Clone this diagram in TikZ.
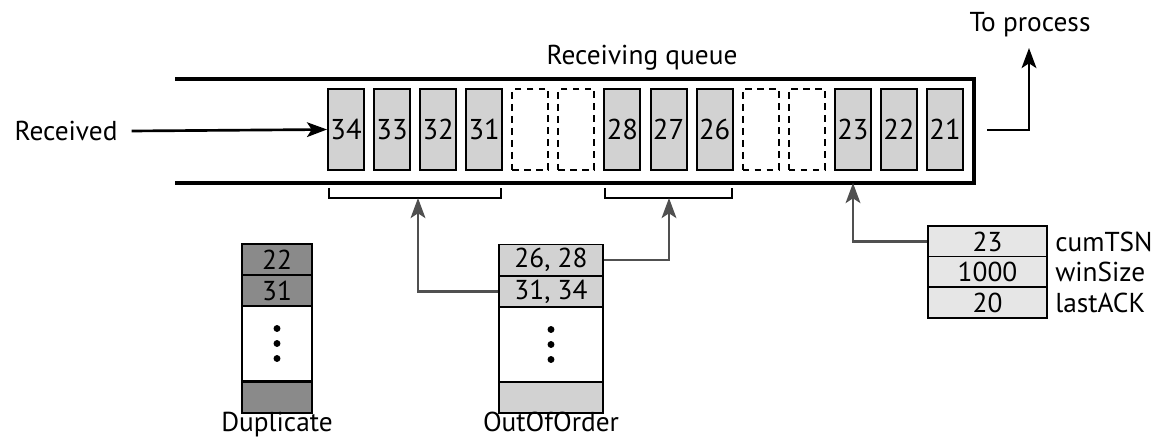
\documentclass[tikz,border=0pt]{standalone}
\usepackage{fontspec}
\setmainfont{PT Sans}
\usetikzlibrary{arrows.meta}
\definecolor{qgray}{HTML}{D2D2D2}
\definecolor{dgray}{HTML}{8A8A8A}
\definecolor{wgray}{HTML}{E6E6E6}
\definecolor{agray}{HTML}{505050}
\begin{document}
\begin{tikzpicture}[x=0.75pt,y=-0.75pt,
  every node/.style={font=\fontsize{20.5}{24}\selectfont, inner sep=0pt},
  qbox/.style={draw, line width=1.5pt, fill=qgray, minimum width=36*0.75pt, minimum height=81*0.75pt, font=\fontsize{21.5}{24}\selectfont},
  ebox/.style={draw, line width=1.5pt, dashed, dash pattern=on 5pt off 4pt, minimum width=36*0.75pt, minimum height=81*0.75pt},
  cell/.style={draw, line width=1.2pt, minimum width=#1*0.75pt, minimum height=31*0.75pt},
  tall/.style={draw, line width=1.2pt, fill=white, minimum width=#1*0.75pt, minimum height=75*0.75pt},
  arr/.style={line width=2pt, -{Stealth[length=15pt,width=11pt,inset=3.5pt]}},
  garr/.style={line width=2pt, draw=agray, -{Stealth[length=15pt,width=11pt,inset=3.5pt]}},
  brk/.style={line width=1.9pt},
  lab/.style={anchor=base}
]
\useasboundingbox (0,0) rectangle (1161,441);
% queue
\draw[line width=2.4pt] (175,79) -- (974,79) -- (974,183) -- (175,183);
\node[lab] at (642,65) (rq) {Receiving queue};
% boxes
\foreach \n/\k in {34/0,33/1,32/2,31/3,28/6,27/7,26/8,23/11,22/12,21/13}
  \node[qbox] (q\n) at ({346+46.08*\k},129.5) {\n};
\foreach \k in {4,5,9,10}
  \node[ebox] (e\k) at ({346+46.08*\k},129.5) {};
% received
\node (recv) at (66,131) {Received};
\draw[arr] (recv.east) ++(14,0) coordinate (rs) -- (q34.west);
% to process
\node[lab] (tp) at (1030,32) {To process};
\coordinate (outs) at (987,130);
\coordinate (outt) at (1029,48);
\draw[arr] (outs) -| (outt);
% brackets
\coordinate (b1) at (418,198);
\coordinate (b2) at (669,198);
\draw[brk] (329,188) -- (329,198) -- (501,198) -- (501,188);
\draw[brk] (605,188) -- (605,198) -- (732,198) -- (732,188);
\coordinate (c23) at (853,183);
% duplicate
\node[cell=70, fill=dgray] (d1) at (277,259.5) {22};
\node[cell=70, fill=dgray] (d2) at (277,290.5) {31};
\node[tall=70] (d3) at (277,343.5) {};
\node[cell=70, fill=dgray] (d4) at (277,397.5) {};
\node[lab] (dup) at (277,432) {Duplicate};
% out of order
\node[cell=104, fill=qgray] (o1) at (551,260) {26, 28};
\node[cell=104, fill=qgray] (o2) at (551,291.5) {31, 34};
\node[tall=104] (o3) at (551,344.5) {};
\node[cell=104, fill=qgray] (o4) at (551,397.5) {};
\node[lab] (ooo) at (551,432) {OutOfOrder};
\foreach \c in {d3,o3}
  \foreach \dy in {-15,0,15}
    \fill ([yshift=-\dy*0.75pt]\c.center) circle (2.6pt);
% window
\node[cell=119, fill=wgray] (w1) at (987.5,241.5) {23};
\node[cell=119, fill=wgray] (w2) at (987.5,272) {1000};
\node[cell=119, fill=wgray] (w3) at (987.5,302.5) {20};
\node[anchor=west] (l1) at (1055,241.5) {cumTSN};
\node[anchor=west] (l2) at (1055,272) {winSize};
\node[anchor=west] (l3) at (1055,302.5) {lastACK};
% gray arrows
\draw[garr] (o2.west) -| (b1);
\draw[garr] (o1.east) -| (b2);
\draw[garr] (w1.west) -| (c23);
\end{tikzpicture}
\end{document}
